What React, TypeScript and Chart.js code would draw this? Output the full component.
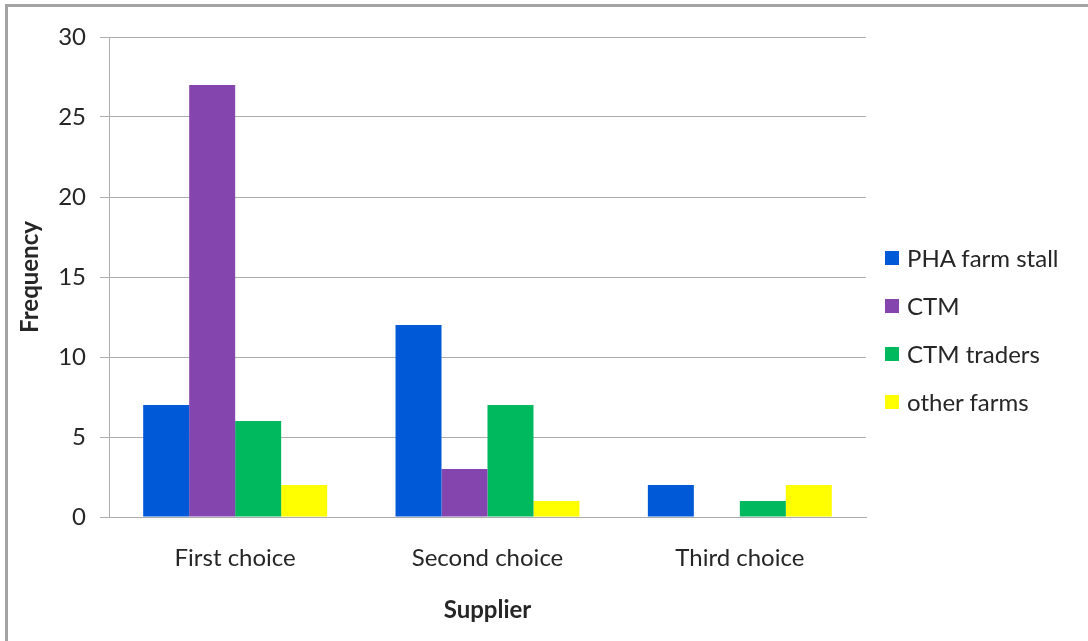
import React, { useEffect, useRef } from "react";
import { Chart, registerables } from "chart.js";

Chart.register(...registerables);

const categories = ["First choice", "Second choice", "Third choice"];
const seriesNames = ["PHA farm stall", "CTM", "CTM traders", "other farms"];
const phaFarmStall = [7, 12, 2];
const ctm = [27, 3, 0];
const ctmTraders = [6, 7, 1];
const otherFarms = [2, 1, 2];
const seriesColors = ["#0059D6", "#8446AE", "#00B85E", "#FFFF00"];
const yTicks = [0, 5, 10, 15, 20, 25, 30];

const FONT = "Lato, 'Liberation Sans', sans-serif";
const TEXT = "#262626";
const GRID = "#ADADAD";
const FONT_SIZE = 24;

export default function App() {
  const canvasRef = useRef<HTMLCanvasElement | null>(null);

  useEffect(() => {
    const canvas = canvasRef.current;
    if (!canvas) return;
    const values = [phaFarmStall, ctm, ctmTraders, otherFarms];
    const chart = new Chart(canvas, {
      type: "bar",
      data: {
        labels: categories,
        datasets: seriesNames.map((name, i) => ({
          label: name,
          data: values[i],
          backgroundColor: seriesColors[i],
          borderWidth: 0,
          categoryPercentage: 0.729,
          barPercentage: 1,
        })),
      },
      options: {
        responsive: false,
        animation: false,
        maintainAspectRatio: false,
        layout: { padding: { top: 37, right: 222, bottom: 0, left: 10 } },
        plugins: {
          legend: { display: false },
          tooltip: { enabled: false },
        },
        scales: {
          x: {
            grid: { display: false, drawTicks: false },
            border: { display: true, color: GRID, width: 1 },
            ticks: {
              color: TEXT,
              font: { family: FONT, size: FONT_SIZE },
              padding: 27,
              maxRotation: 0,
            },
            title: {
              display: true,
              text: "Supplier",
              color: TEXT,
              font: { family: FONT, size: FONT_SIZE, weight: "bold" },
              padding: { top: 0, bottom: 16 },
            },
            afterFit: (scale: any) => {
              scale.height = 124;
            },
          },
          y: {
            min: 0,
            max: 30,
            afterBuildTicks: (scale: any) => {
              scale.ticks = yTicks.map((v) => ({ value: v }));
            },
            grid: { color: GRID, lineWidth: 1, tickLength: 9, drawTicks: true },
            border: { display: true, color: GRID, width: 1 },
            ticks: {
              color: TEXT,
              font: { family: FONT, size: FONT_SIZE },
              padding: 14,
            },
            title: {
              display: true,
              text: "Frequency",
              color: TEXT,
              font: { family: FONT, size: FONT_SIZE, weight: "bold" },
              padding: { top: 6, bottom: 0 },
            },
            afterFit: (scale: any) => {
              scale.width = 99;
            },
          },
        },
      },
    });
    return () => chart.destroy();
  }, []);

  return (
    <div
      style={{
        position: "fixed",
        left: 0,
        top: 0,
        width: 1088,
        height: 641,
        background: "#FFFFFF",
        overflow: "hidden",
        fontFamily: FONT,
      }}
    >
      <div
        style={{
          position: "absolute",
          left: 5,
          top: 4,
          right: -10,
          bottom: -10,
          borderTop: "3px solid #A3A3A3",
          borderLeft: "3px solid #A3A3A3",
        }}
      />
      <canvas
        ref={canvasRef}
        width={1088}
        height={641}
        style={{ position: "absolute", left: 0, top: 0, width: 1088, height: 641 }}
      />
      <div style={{ position: "absolute", left: 885, top: 234 }}>
        {seriesNames.map((name, i) => (
          <div
            key={name}
            style={{ display: "flex", alignItems: "center", height: 48 }}
          >
            <span
              style={{
                display: "inline-block",
                width: 14,
                height: 14,
                background: seriesColors[i],
                marginRight: 8,
              }}
            />
            <span style={{ fontSize: FONT_SIZE, color: TEXT, lineHeight: "26px" }}>{name}</span>
          </div>
        ))}
      </div>
    </div>
  );
}
